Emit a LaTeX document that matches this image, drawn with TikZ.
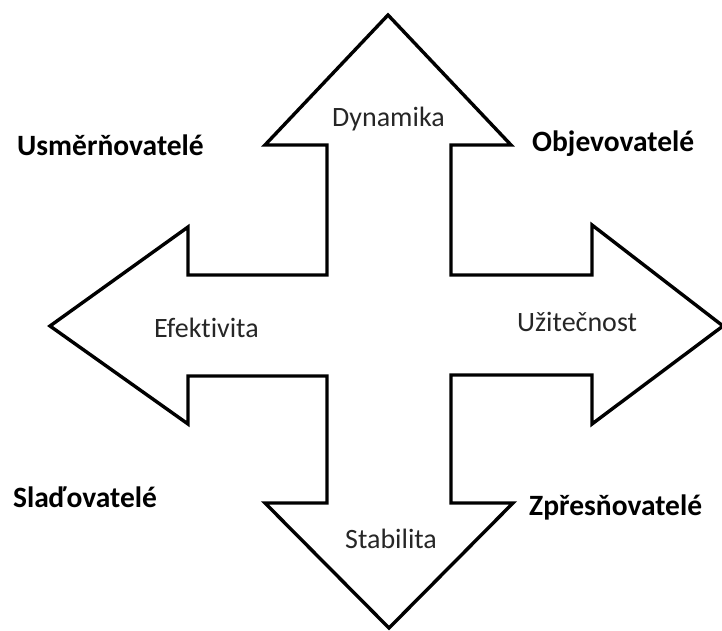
\documentclass[tikz,border=0pt]{standalone}
\usepackage{fontspec}
\setmainfont[Ligatures=NoCommon]{Carlito}
\begin{document}
\begin{tikzpicture}[x=1pt,y=-1pt,
  shapeline/.style={draw=black,line width=3.4pt,line join=miter},
  axislabel/.style={anchor=base west,inner sep=0pt,text=black!85,font=\fontsize{28}{32}\selectfont},
  grouplabel/.style={anchor=base west,inner sep=0pt,text=black,font=\fontsize{29.5}{33}\selectfont\bfseries}]
\useasboundingbox (0,0) rectangle (722,631);
\draw[shapeline] (388,15) -- (511,145) -- (451,145) -- (451,275) -- (592,275) -- (592,225)
  -- (723,326) -- (592,424) -- (592,375) -- (451,375) -- (451,503) -- (513,503)
  -- (389,628) -- (265,503) -- (327,503) -- (327,376) -- (188,376) -- (188,424)
  -- (50,326) -- (188,227) -- (188,275) -- (327,275) -- (327,145) -- (265,145) -- cycle;
\node[axislabel] (dyn) at (332,127) {Dynamika};
\node[axislabel] (efe) at (154,337) {Efektivita};
\node[axislabel] (uzi) at (517,331) {Užitečnost};
\node[axislabel] (sta) at (345,548) {Stabilita};
\node[grouplabel] (usm) at (17,156) {Usměrňovatelé};
\node[grouplabel] (obj) at (532,152) {Objevovatelé};
\node[grouplabel] (sla) at (13,507) {Slaďovatelé};
\node[grouplabel] (zpr) at (529,515) {Zpřesňovatelé};
\end{tikzpicture}
\end{document}
